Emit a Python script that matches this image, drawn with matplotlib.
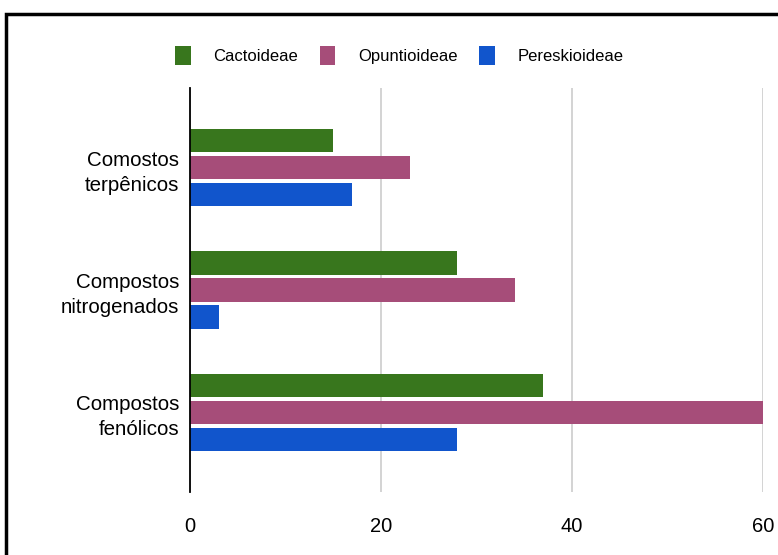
import matplotlib.pyplot as plt
import numpy as np
from matplotlib.patches import Rectangle

plt.rcParams['font.family'] = ['Liberation Sans', 'DejaVu Sans']

categorias = ["Comostos\nterpênicos", "Compostos\nnitrogenados", "Compostos\nfenólicos"]
series = ["Cactoideae", "Opuntioideae", "Pereskioideae"]
cactoideae = [15, 28, 37]
opuntioideae = [23, 34, 60]
pereskioideae = [17, 3, 28]
xticks = [0, 20, 40, 60]

cores = ["#38761d", "#a64d79", "#1155cc"]

fig = plt.figure(figsize=(7.78, 5.55), dpi=100)
ax = fig.add_axes([0.2442, 0.1135, 0.7365, 0.7279])

y = np.arange(len(categorias))
h = 0.19
passo = 0.221
for i, (nome, vals) in enumerate(zip(series, [cactoideae, opuntioideae, pereskioideae])):
    ax.barh(y + (i - 1) * passo, vals, height=h, color=cores[i], label=nome, zorder=3)

ax.set_xlim(0, 60)
ax.set_ylim(2.65, -0.65)
ax.set_xticks(xticks)
ax.set_xticklabels([str(t) for t in xticks], fontsize=14.5)
ax.set_yticks(y)
ax.set_yticklabels(categorias, fontsize=14.8, multialignment="right", linespacing=1.4)
ax.tick_params(axis="both", length=0)
ax.tick_params(axis="x", pad=18)
ax.tick_params(axis="y", pad=8)
ax.grid(axis="x", color="#cccccc", linewidth=1.2, zorder=0)
for s in ["top", "right", "bottom"]:
    ax.spines[s].set_visible(False)
ax.spines["left"].set_color("black")
ax.spines["left"].set_linewidth(1.3)
ax.spines["left"].set_zorder(4)

fig.legend(loc="center", bbox_to_anchor=(0.513, 0.9), ncol=3, frameon=False,
           fontsize=12, handlelength=0.95, handleheight=1.35, columnspacing=1.3,
           handletextpad=1.35)

fig.patches.append(Rectangle((6 / 778, -0.1), 1.2, 1 - 14 / 555 + 0.1,
                             transform=fig.transFigure, fill=False,
                             edgecolor="black", linewidth=2.5))

fig.savefig("out.png", dpi=100)
